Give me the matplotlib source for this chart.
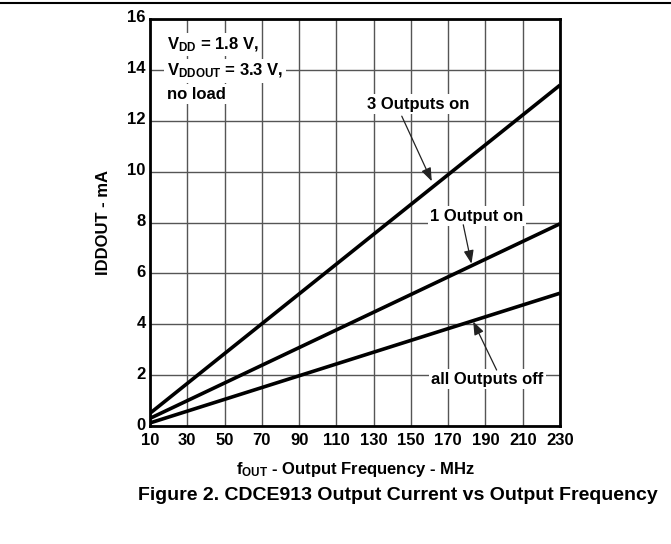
import matplotlib
matplotlib.use('Agg')
import matplotlib.pyplot as plt
import matplotlib.transforms as mtransforms
import numpy as np

plt.rcParams['font.family'] = ['Liberation Sans', 'DejaVu Sans']
plt.rcParams['font.weight'] = 'bold'
plt.rcParams['mathtext.fontset'] = 'custom'
plt.rcParams['mathtext.rm'] = 'Liberation Sans:bold'
plt.rcParams['mathtext.bf'] = 'Liberation Sans:bold'
plt.rcParams['mathtext.it'] = 'Liberation Sans:bold'

# data (endpoints of the straight lines)
freq_mhz = [10, 230]
outputs_3_on = [0.5, 13.4]
output_1_on = [0.3, 7.95]
outputs_off = [0.12, 5.22]

x_ticks = list(range(10, 231, 20))
y_ticks = list(range(0, 17, 2))

FS = 12

fig = plt.figure(figsize=(6.71, 5.44), dpi=100, facecolor='white')
ax = fig.add_axes([150 / 671, 118 / 544, 410 / 671, 407 / 544])
ax.set_xlim(10, 230)
ax.set_ylim(0, 16)

ax.set_xticks(x_ticks)
ax.set_yticks(y_ticks)
ax.tick_params(length=0, labelsize=FS)
ax.tick_params(axis='x', pad=5)
ax.tick_params(axis='y', pad=3)
for lab in ax.get_xticklabels() + ax.get_yticklabels():
    lab.set_fontweight('bold')
# nudge y tick labels up a little so "0" clears "10"
shift = mtransforms.ScaledTranslation(0, 2.5 / 100, fig.dpi_scale_trans)
for lab in ax.get_yticklabels():
    lab.set_transform(lab.get_transform() + shift)
ax.grid(True, color='#555555', lw=1.0)
ax.set_axisbelow(True)
for sp in ax.spines.values():
    sp.set_linewidth(2)

for series in (outputs_3_on, output_1_on, outputs_off):
    ax.plot(freq_mhz, series, color='black', lw=2.6, solid_capstyle='butt', zorder=3)

box = dict(boxstyle='square,pad=0.15', fc='white', ec='none')
arrow = dict(arrowstyle='-|>,head_length=0.8,head_width=0.3', color='#222222', lw=0.9,
             shrinkA=0, shrinkB=0)

ax.text(154, 12.64, '3 Outputs on', ha='center', va='center', fontsize=FS,
        fontweight='bold', bbox=box, zorder=4)
ax.annotate('', xy=(161.2, 9.62), xytext=(145.1, 12.18), arrowprops=arrow, zorder=4)

ax.text(185.3, 8.24, '1 Output on', ha='center', va='center', fontsize=FS,
        fontweight='bold', bbox=box, zorder=4)
ax.annotate('', xy=(182.5, 6.38), xytext=(178.1, 7.91), arrowprops=arrow, zorder=4)

ax.text(191.1, 1.84, 'all Outputs off', ha='center', va='center', fontsize=FS,
        fontweight='bold', bbox=box, zorder=4)
ax.annotate('', xy=(183.4, 4.11), xytext=(196.0, 2.2), arrowprops=arrow, zorder=4)

ax.text(19, 15.0, r'V$_{\mathrm{DD}}$ = 1.8 V,', ha='left', va='center', fontsize=FS,
        fontweight='bold', bbox=box, zorder=4)
ax.text(19, 13.95, r'V$_{\mathrm{DDOUT}}$ = 3.3 V,', ha='left', va='center', fontsize=FS,
        fontweight='bold', bbox=box, zorder=4)
ax.text(19, 13.05, 'no load', ha='left', va='center', fontsize=FS,
        fontweight='bold', bbox=box, zorder=4)

ax.set_ylabel('IDDOUT - mA', fontsize=FS, fontweight='bold', labelpad=12)
ax.set_xlabel(r'f$_{\mathrm{OUT}}$ - Output Frequency - MHz', fontsize=FS,
              fontweight='bold', labelpad=9)

fig.text(398 / 671, 1 - 495 / 544, 'Figure 2. CDCE913 Output Current vs Output Frequency',
         ha='center', va='center', fontsize=14, fontweight='bold')
fig.add_artist(plt.Line2D([0, 1], [1 - 3 / 544, 1 - 3 / 544], color='black', lw=1.5))

fig.savefig('out.png', dpi=100, facecolor='white')
